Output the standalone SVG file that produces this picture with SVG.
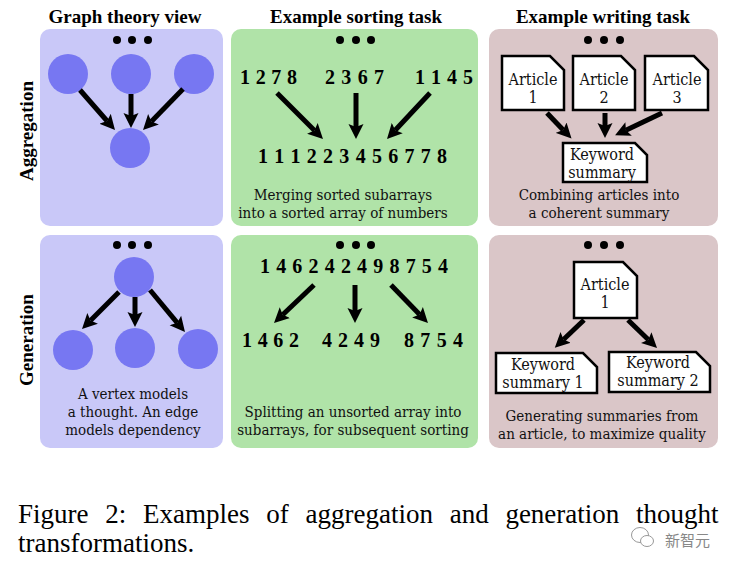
<svg xmlns="http://www.w3.org/2000/svg" width="742" height="570" viewBox="0 0 742 570">
<style>
.bg{fill:#fff}
.p1{fill:#c9c8f8}
.p2{fill:#b0e3a8}
.p3{fill:#dac6c8}
.v{fill:#7777f2}
.dot{fill:#000}
.title{font-family:"Liberation Serif",serif;font-weight:bold;font-size:19px;text-anchor:middle;fill:#000}
.body{font-family:"DejaVu Serif Condensed","DejaVu Serif",serif;font-stretch:condensed;font-size:15px;text-anchor:middle;fill:#111}
.num{font-family:"Liberation Serif",serif;font-weight:bold;font-size:20px;text-anchor:middle;fill:#000}
.doc{fill:#fff;stroke:#000;stroke-width:2.5;stroke-linejoin:miter}
.dt{font-family:"DejaVu Serif Condensed","DejaVu Serif",serif;font-stretch:condensed;font-size:16px;text-anchor:middle;fill:#111}
.cap{font-family:"Liberation Serif",serif;font-size:27px;fill:#000}
.arr{stroke:#000;stroke-width:5;fill:none;marker-end:url(#ah)}
</style>
<defs>
<marker id="ah" markerUnits="userSpaceOnUse" viewBox="0 -8 16 16" refX="3" refY="0" markerWidth="16" markerHeight="16" orient="auto">
<path d="M0,-7.5 L15,0 L0,7.5 L3,0 Z" fill="#000"/>
</marker>
</defs>
<rect class="bg" x="0" y="0" width="742" height="570"/>

<g id="headers">
<text class="title" x="125" y="23">Graph theory view</text>
<text class="title" x="356" y="23">Example sorting task</text>
<text class="title" x="603" y="23">Example writing task</text>
<text class="title" transform="translate(33,131) rotate(-90)">Aggregation</text>
<text class="title" transform="translate(33,340) rotate(-90)">Generation</text>
</g>

<g id="panels">
<rect class="p1" x="40" y="29" width="183" height="197" rx="10"/>
<rect class="p2" x="231" y="29" width="247" height="197" rx="10"/>
<rect class="p3" x="489" y="29" width="229" height="197" rx="10"/>
<rect class="p1" x="40" y="235" width="183" height="213" rx="10"/>
<rect class="p2" x="231" y="235" width="247" height="213" rx="10"/>
<rect class="p3" x="489" y="235" width="229" height="213" rx="10"/>
</g>

<g id="dots">
<circle class="dot" cx="117" cy="40" r="4"/><circle class="dot" cx="132" cy="40" r="4"/><circle class="dot" cx="148" cy="40" r="4"/>
<circle class="dot" cx="340" cy="40" r="4"/><circle class="dot" cx="356" cy="40" r="4"/><circle class="dot" cx="371" cy="40" r="4"/>
<circle class="dot" cx="588" cy="40" r="4"/><circle class="dot" cx="604" cy="40" r="4"/><circle class="dot" cx="620" cy="40" r="4"/>
<circle class="dot" cx="117" cy="245" r="4"/><circle class="dot" cx="132" cy="245" r="4"/><circle class="dot" cx="148" cy="245" r="4"/>
<circle class="dot" cx="340" cy="245" r="4"/><circle class="dot" cx="356" cy="245" r="4"/><circle class="dot" cx="371" cy="245" r="4"/>
<circle class="dot" cx="588" cy="245" r="4"/><circle class="dot" cx="604" cy="245" r="4"/><circle class="dot" cx="620" cy="245" r="4"/>
</g>

<g id="graph-aggregation">
<circle class="v" cx="68" cy="74" r="20"/>
<circle class="v" cx="131" cy="74" r="20"/>
<circle class="v" cx="194" cy="74" r="20"/>
<circle class="v" cx="130" cy="148" r="20"/>
</g>
<g id="graph-generation">
<circle class="v" cx="134" cy="277" r="20"/>
<circle class="v" cx="73" cy="350" r="20"/>
<circle class="v" cx="135" cy="348" r="20"/>
<circle class="v" cx="198" cy="349" r="20"/>
<text class="body" x="133" y="399">A vertex models</text>
<text class="body" x="133" y="417">a thought. An edge</text>
<text class="body" x="133" y="435">models dependency</text>
</g>

<g id="sort-aggregation">
<text class="num" x="268.5" y="84" textLength="57" lengthAdjust="spacing">1 2 7 8</text>
<text class="num" x="354.5" y="84" textLength="59" lengthAdjust="spacing">2 3 6 7</text>
<text class="num" x="444" y="84" textLength="58" lengthAdjust="spacing">1 1 4 5</text>
<text class="num" x="352.5" y="163" textLength="189" lengthAdjust="spacing">1 1 1 2 2 3 4 5 6 7 7 8</text>
<text class="body" x="343" y="200">Merging sorted subarrays</text>
<text class="body" x="343" y="218">into a sorted array of numbers</text>
</g>
<g id="sort-generation">
<text class="num" x="354" y="273" textLength="188" lengthAdjust="spacing">1 4 6 2 4 2 4 9 8 7 5 4</text>
<text class="num" x="270.5" y="347" textLength="57" lengthAdjust="spacing">1 4 6 2</text>
<text class="num" x="351" y="347" textLength="58" lengthAdjust="spacing">4 2 4 9</text>
<text class="num" x="433.5" y="347" textLength="59" lengthAdjust="spacing">8 7 5 4</text>
<text class="body" x="353" y="417">Splitting an unsorted array into</text>
<text class="body" x="353" y="435">subarrays, for subsequent sorting</text>
</g>

<g id="write-aggregation">
<path class="doc" d="M502,56 H550 L564,70 V110 H502 Z"/>
<text class="dt" x="533" y="85">Article</text><text class="dt" x="533" y="103">1</text>
<path class="doc" d="M573,56 H621 L635,70 V110 H573 Z"/>
<text class="dt" x="604" y="85">Article</text><text class="dt" x="604" y="103">2</text>
<path class="doc" d="M645,56 H694 L708,70 V110 H645 Z"/>
<text class="dt" x="677" y="85">Article</text><text class="dt" x="677" y="103">3</text>
<path class="doc" d="M563,143 H635 L647,155 V182 H563 Z"/>
<text class="dt" x="602" y="160">Keyword</text><text class="dt" x="602" y="178">summary</text>
<text class="body" x="599" y="200">Combining articles into</text>
<text class="body" x="599" y="218">a coherent summary</text>
</g>
<g id="write-generation">
<path class="doc" d="M574,262 H623 L637,276 V318 H574 Z"/>
<text class="dt" x="605" y="290">Article</text><text class="dt" x="605" y="308">1</text>
<path class="doc" d="M496,353 H583 L597,367 V393 H496 Z"/>
<text class="dt" x="543" y="370">Keyword</text><text class="dt" x="543" y="388">summary 1</text>
<path class="doc" d="M609,352 H696 L710,366 V392 H609 Z"/>
<text class="dt" x="658" y="368">Keyword</text><text class="dt" x="658" y="386">summary 2</text>
<text class="body" x="602" y="421">Generating summaries from</text>
<text class="body" x="602" y="439">an article, to maximize quality</text>
</g>

<g id="connectors">
<line class="arr" x1="80" y1="90" x2="107.1" y2="121"/>
<line class="arr" x1="131" y1="94" x2="131" y2="116"/>
<line class="arr" x1="183" y1="89" x2="151.4" y2="121.4"/>
<line class="arr" x1="119" y1="292" x2="90.5" y2="320.5"/>
<line class="arr" x1="135" y1="297" x2="135" y2="315"/>
<line class="arr" x1="150" y1="290" x2="177.3" y2="322.8"/>
<line class="arr" x1="277" y1="93" x2="314.5" y2="130.5"/>
<line class="arr" x1="356" y1="93" x2="356" y2="127"/>
<line class="arr" x1="430" y1="93" x2="395.2" y2="130.2"/>
<line class="arr" x1="314" y1="285" x2="282.7" y2="314.7"/>
<line class="arr" x1="355" y1="285" x2="355" y2="311"/>
<line class="arr" x1="391" y1="285" x2="419.6" y2="314.4"/>
<line class="arr" x1="547" y1="113" x2="563.2" y2="129.9"/>
<line class="arr" x1="605" y1="113" x2="605" y2="126"/>
<line class="arr" x1="662" y1="113" x2="625.9" y2="130.2"/>
<line class="arr" x1="584" y1="320" x2="563.5" y2="339.5"/>
<line class="arr" x1="628" y1="320" x2="648.4" y2="339.7"/>
</g>

<g id="caption">
<text class="cap" x="18" y="523" word-spacing="10">Figure 2: Examples of aggregation and generation thought</text>
<text class="cap" x="18" y="552">transformations.</text>
</g>

<g id="watermark">
<ellipse cx="640" cy="535" rx="8.5" ry="7.5" fill="#fff" stroke="#999" stroke-width="1"/>
<ellipse cx="647" cy="541" rx="6.5" ry="5.5" fill="#fff" stroke="#999" stroke-width="1"/>
<text x="665" y="546" font-family="Noto Sans CJK SC, sans-serif" font-size="15" fill="#888">新智元</text>
</g>
</svg>
